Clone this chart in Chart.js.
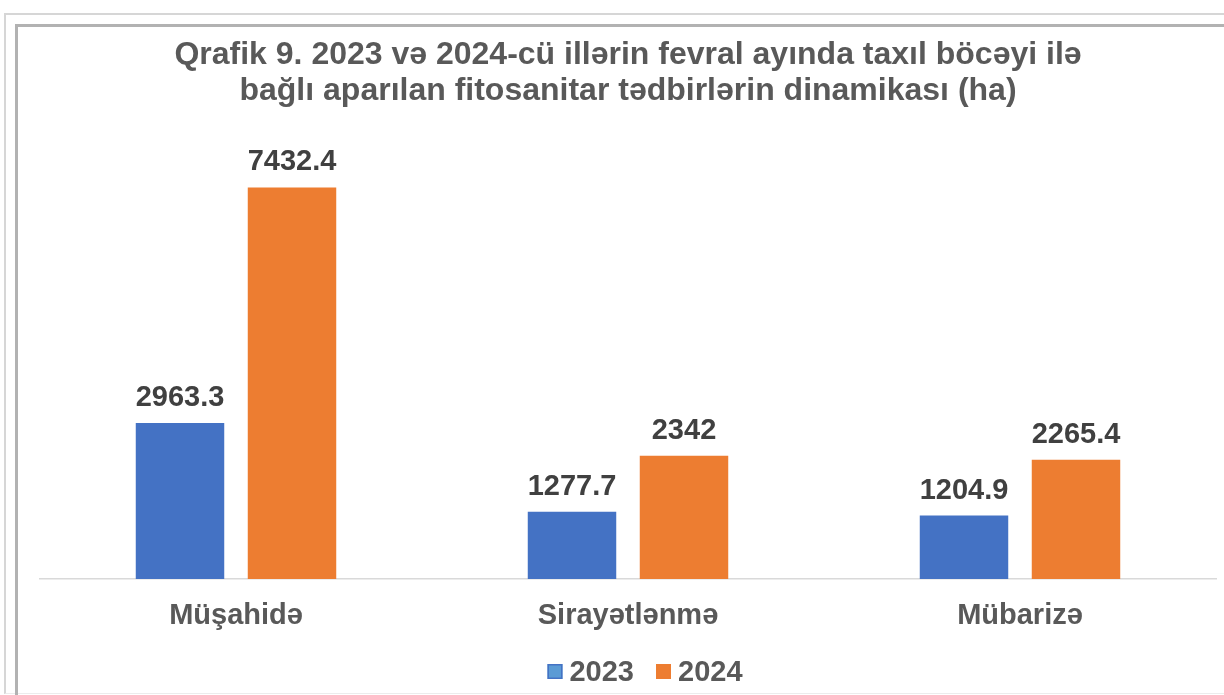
<!DOCTYPE html>
<html>
<head>
<meta charset="utf-8">
<title>Qrafik 9</title>
<script src="https://cdn.jsdelivr.net/npm/chart.js@4/dist/chart.umd.min.js"></script>
<style>
  html, body { margin: 0; padding: 0; background: #fff; overflow: hidden; }
  #wrap { position: relative; width: 1224px; height: 695px; }
  .frame-outer { position: absolute; left: 4px; top: 13px; width: 1300px; height: 678px;
                 border-left: 2px solid #d6d6d6; border-top: 2px solid #d6d6d6; border-bottom: 1px solid #ececec; }
  .frame-inner { position: absolute; left: 15px; top: 24px; width: 1300px; height: 800px;
                 border-left: 3px solid #b2b2b2; border-top: 3px solid #b2b2b2; }
  canvas { position: absolute; left: 0; top: 0; }
</style>
</head>
<body>
<div id="wrap">
  <div class="frame-outer"></div>
  <div class="frame-inner"></div>
  <canvas id="barChart" width="1224" height="695"></canvas>
</div>
<script>
// chart data
const categories = ['Müşahidə', 'Sirayətlənmə', 'Mübarizə'];
const values2023 = [2963.3, 1277.7, 1204.9];
const values2024 = [7432.4, 2342, 2265.4];
const seriesNames = ['2023', '2024'];
const titleLines = [
    'Qrafik 9. 2023 və 2024-cü illərin fevral ayında taxıl böcəyi ilə',
    'bağlı aparılan fitosanitar tədbirlərin dinamikası (ha)'
];

const FONT = "'Liberation Sans', Arial, sans-serif";

// value labels above each bar
const barLabels = {
    id: 'barLabels',
    afterDatasetsDraw(chart) {
        const ctx = chart.ctx;
        ctx.save();
        ctx.font = 'bold 29px ' + FONT;
        ctx.fillStyle = '#404040';
        ctx.textAlign = 'center';
        ctx.textBaseline = 'alphabetic';
        chart.data.datasets.forEach((ds, i) => {
            chart.getDatasetMeta(i).data.forEach((bar, j) => {
                ctx.fillText(String(ds.data[j]), bar.x, bar.y - 17);
            });
        });
        ctx.restore();
    }
};

// legend drawn like the excel one (small square, tight gap)
const bottomLegend = {
    id: 'bottomLegend',
    afterDraw(chart) {
        const ctx = chart.ctx;
        ctx.save();
        ctx.font = 'bold 29px ' + FONT;
        const box = 15, gap = 7, spacing = 22;
        const items = chart.data.datasets.map(ds => ({
            text: ds.label, fill: ds.legendFill, stroke: ds.backgroundColor,
            w: box + gap + ctx.measureText(ds.label).width
        }));
        const total = items.reduce((s, it) => s + it.w, 0) + spacing * (items.length - 1);
        let x = 645 - total / 2;
        const y = 672;
        items.forEach(it => {
            ctx.fillStyle = it.fill;
            ctx.fillRect(x, y - 8, box, box);
            ctx.strokeStyle = it.stroke;
            ctx.lineWidth = 1.5;
            ctx.strokeRect(x + 0.75, y - 7.25, box - 1.5, box - 1.5);
            ctx.fillStyle = '#595959';
            ctx.textAlign = 'left';
            ctx.textBaseline = 'middle';
            ctx.fillText(it.text, x + box + gap, y + 1);
            x += it.w + spacing;
        });
        ctx.restore();
    }
};

const ctx = document.getElementById('barChart').getContext('2d');
const chart = new Chart(ctx, {
    type: 'bar',
    data: {
        labels: categories,
        datasets: [{
            label: seriesNames[0],
            data: values2023,
            backgroundColor: '#4472C4',
            legendFill: '#5B9BD5',
            categoryPercentage: 0.5714,
            barPercentage: 0.79
        }, {
            label: seriesNames[1],
            data: values2024,
            backgroundColor: '#ED7D31',
            legendFill: '#ED7D31',
            categoryPercentage: 0.5714,
            barPercentage: 0.79
        }]
    },
    options: {
        responsive: false,
        animation: false,
        devicePixelRatio: 1,
        layout: { padding: { left: 40, right: 8, top: 25, bottom: 56 } },
        plugins: {
            legend: { display: false },
            tooltip: { enabled: false },
            title: {
                display: true,
                text: titleLines,
                color: '#595959',
                font: { family: FONT, size: 32, weight: 'bold', lineHeight: 1.12 },
                padding: { top: 12, bottom: 48.9 }
            }
        },
        scales: {
            x: {
                grid: { display: false, drawTicks: false },
                border: { display: true, color: '#d9d9d9', width: 1.5 },
                ticks: {
                    color: '#595959',
                    padding: 20,
                    font: { family: FONT, size: 29, weight: 'bold' }
                },
                afterFit(scale) { scale.height = 60; }
            },
            y: {
                display: false,
                min: 0,
                max: 8000
            }
        }
    },
    plugins: [barLabels, bottomLegend]
});
</script>
</body>
</html>
